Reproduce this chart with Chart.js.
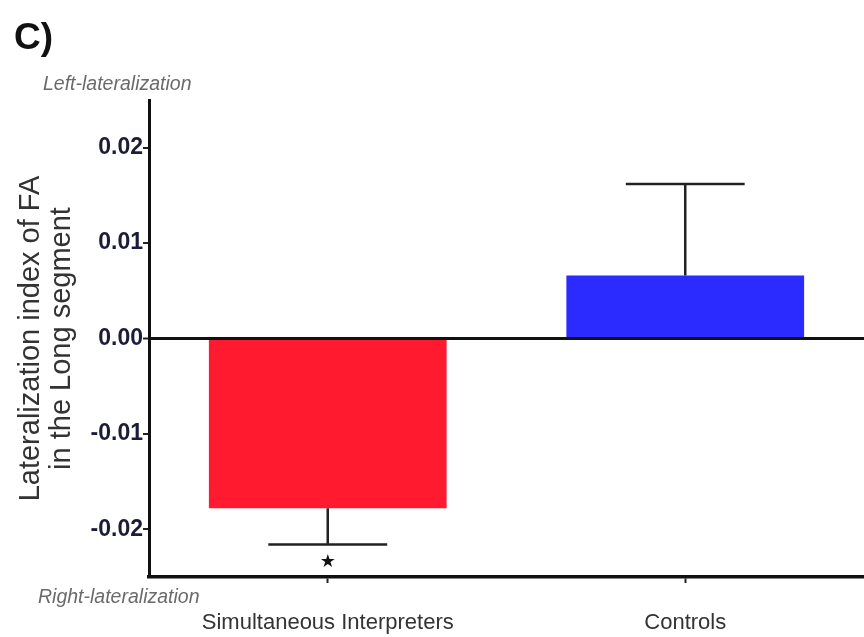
<!DOCTYPE html>
<html>
<head>
<meta charset="utf-8">
<script src="https://cdn.jsdelivr.net/npm/chart.js@4.4.1/dist/chart.umd.min.js"></script>
<style>
  html, body { margin: 0; padding: 0; background: #fff; }
  #wrap { width: 864px; height: 637px; position: relative; }
</style>
</head>
<body>
<div id="wrap"><canvas id="chart"></canvas></div>
<script>
// values
const groups = ['Simultaneous Interpreters', 'Controls'];
const means = [-0.0178, 0.0066];
const sem = [0.0038, 0.0096];
const marks = ['\u2605', ''];
const tickValues = [-0.02, -0.01, 0, 0.01, 0.02];
const barColors = ['#FF1A30', '#2B2BFF'];

const ctx = document.getElementById('chart').getContext('2d');

// error bars (one-sided, away from zero) + significance star
const errorBars = {
  id: 'errorBars',
  afterDatasetsDraw(chart) {
    const c = chart.ctx;
    const y = chart.scales.y;
    const meta = chart.getDatasetMeta(0);
    c.save();
    c.strokeStyle = '#222';
    c.lineWidth = 2.5;
    meta.data.forEach((bar, i) => {
      const v = means[i];
      const end = v + Math.sign(v) * sem[i];
      const y0 = y.getPixelForValue(v);
      const y1 = y.getPixelForValue(end);
      const half = bar.width / 4;
      c.beginPath();
      c.moveTo(bar.x, y0);
      c.lineTo(bar.x, y1);
      c.moveTo(bar.x - half, y1);
      c.lineTo(bar.x + half, y1);
      c.stroke();
      if (marks[i]) {
        c.fillStyle = '#111';
        c.font = '18px "DejaVu Sans"';
        c.textAlign = 'center';
        c.textBaseline = 'middle';
        c.fillText(marks[i], bar.x, y1 + 18);
      }
    });
    c.restore();
  }
};

// panel letter and the left/right notes
const notes = {
  id: 'notes',
  afterDraw(chart) {
    const c = chart.ctx;
    c.save();
    c.fillStyle = '#111';
    c.font = 'bold 37px "Liberation Sans", Arial, sans-serif';
    c.textBaseline = 'middle';
    c.textAlign = 'left';
    c.fillText('C)', 14, 39);
    c.fillStyle = '#6a6a6a';
    c.font = 'italic 19.5px "Liberation Sans", Arial, sans-serif';
    c.fillText('Left-lateralization', 43, 85);
    c.fillText('Right-lateralization', 38, 598);
    c.restore();
  }
};

new Chart(ctx, {
  type: 'bar',
  data: {
    labels: groups,
    datasets: [{
      data: means,
      backgroundColor: barColors,
      borderWidth: 0,
      categoryPercentage: 1,
      barPercentage: 0.665
    }]
  },
  options: {
    responsive: true,
    maintainAspectRatio: false,
    animation: false,
    layout: { padding: { top: 100, left: 0, right: 0, bottom: 0 } },
    plugins: {
      legend: { display: false },
      tooltip: { enabled: false }
    },
    scales: {
      x: {
        offset: true,
        border: { display: true, color: '#111', width: 3.5 },
        grid: {
          display: true,
          offset: false,
          drawOnChartArea: false,
          drawTicks: true,
          tickLength: 6,
          tickColor: '#222',
          tickWidth: 2
        },
        ticks: {
          color: '#333',
          padding: 27,
          maxRotation: 0,
          font: { family: '"Liberation Sans", Arial, sans-serif', size: 22 }
        },
        afterFit(scale) { scale.height = 60; }
      },
      y: {
        min: -0.025,
        max: 0.025,
        afterBuildTicks(scale) {
          scale.ticks = tickValues.map(v => ({ value: v }));
        },
        border: { display: true, color: '#111', width: 3 },
        grid: {
          drawTicks: true,
          tickLength: 6,
          tickColor: '#222',
          tickWidth: 2,
          color: c => (c.tick && c.tick.value === 0) ? '#111' : 'rgba(0,0,0,0)',
          lineWidth: c => (c.tick && c.tick.value === 0) ? 3 : 0
        },
        ticks: {
          color: '#1c1c38',
          padding: 0,
          font: { family: '"Liberation Sans", Arial, sans-serif', size: 23, weight: 'bold' },
          callback: v => v.toFixed(2)
        },
        title: {
          display: true,
          text: ['Lateralization index of FA', 'in the Long segment'],
          color: '#333',
          padding: { top: 15, bottom: 0 },
          font: { family: '"Liberation Sans", Arial, sans-serif', size: 29, lineHeight: 1.07 }
        },
        afterFit(scale) { scale.width = 149; }
      }
    }
  },
  plugins: [errorBars, notes]
});
</script>
</body>
</html>
